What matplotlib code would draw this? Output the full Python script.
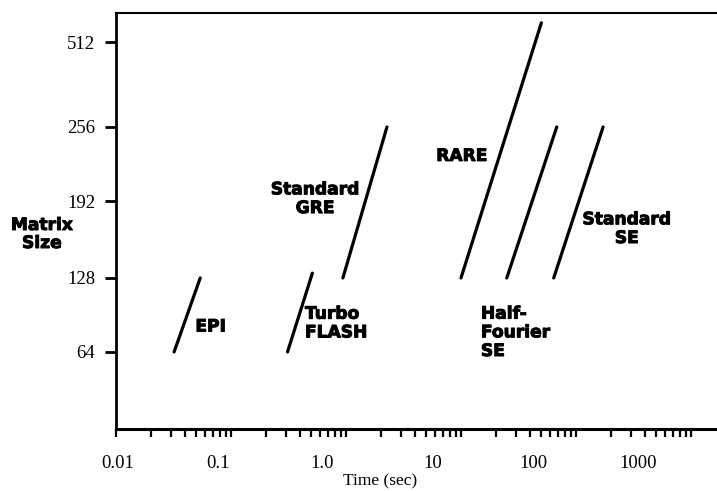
import numpy as np
import matplotlib
matplotlib.use("Agg")
import matplotlib.pyplot as plt
import matplotlib.patheffects as pe
from matplotlib.ticker import FixedLocator, LogLocator, NullLocator, NullFormatter

plt.rcParams['font.family'] = 'serif'
plt.rcParams['font.serif'] = ['Liberation Serif', 'DejaVu Serif']

# sequence lines: (time_start, time_end), (matrix_start, matrix_end)
sequences = ['EPI', 'Turbo FLASH', 'Standard GRE', 'RARE', 'Half-Fourier SE', 'Standard SE']
time_lo = [0.032, 0.31, 0.94, 10.0, 25.0, 64.0]
time_hi = [0.054, 0.51, 2.27, 50.0, 68.0, 172.0]
size_lo = [64, 64, 128, 128, 128, 128]
size_hi = [128, 132, 256, 570, 256, 256]

# label text and where it sits (time, matrix size, alignment)
label_text = ['EPI', 'Turbo\nFLASH', 'Standard\nGRE', 'RARE', 'Half-\nFourier\nSE', 'Standard\nSE']
label_t = [0.049, 0.44, 0.54, 10.2, 14.9, 277.0]
label_s = [86, 89, 194, 231, 81, 169]
label_ha = ['left', 'left', 'center', 'center', 'left', 'center']

# y axis: the tick spacing is not linear in matrix size
y_ticks = [64, 128, 192, 256, 512]
y_pos = [0.0, 0.987, 2.013, 3.0, 4.133]

x_tick_at = [0.0104, 0.0771, 0.618, 5.71, 42.3, 346.0]
x_tick_labels = ['0.01', '0.1', '1.0', '10', '100', '1000']

ys = np.array(y_ticks, float)
yp = np.array(y_pos, float)
lo_slope = (yp[1] - yp[0]) / (ys[1] - ys[0])
hi_slope = (yp[-1] - yp[-2]) / (ys[-1] - ys[-2])


def fwd(s):
    s = np.asarray(s, float)
    out = np.interp(s, ys, yp)
    out = np.where(s < ys[0], yp[0] + (s - ys[0]) * lo_slope, out)
    out = np.where(s > ys[-1], yp[-1] + (s - ys[-1]) * hi_slope, out)
    return out


def inv(p):
    p = np.asarray(p, float)
    out = np.interp(p, yp, ys)
    out = np.where(p < yp[0], ys[0] + (p - yp[0]) / lo_slope, out)
    out = np.where(p > yp[-1], ys[-1] + (p - yp[-1]) / hi_slope, out)
    return out


heavy = [pe.withStroke(linewidth=0.7, foreground='black')]

fig = plt.figure(figsize=(7.17, 4.91), dpi=100)
ax = fig.add_axes([116 / 717, 1 - 429 / 491, 1 - 116 / 717, (429 - 13) / 491])

for i in range(len(sequences)):
    ax.plot([time_lo[i], time_hi[i]], [size_lo[i], size_hi[i]],
            color='black', lw=2.3, solid_capstyle='round')

for txt, t, s, ha in zip(label_text, label_t, label_s, label_ha):
    ax.text(t, s, txt, ha=ha, va='center', family='DejaVu Sans',
            fontweight='bold', fontsize=12.3, linespacing=1.05, path_effects=heavy)

ax.set_xscale('log')
ax.set_yscale('function', functions=(fwd, inv))
ax.set_xlim(0.01, 10 ** ((717 - 116) / 115 - 2))
ax.set_ylim(float(inv(-1.027)), float(inv(4.52)))

ax.set_yticks(y_ticks)
ax.set_yticklabels([str(v) for v in y_ticks])
ax.yaxis.set_minor_locator(NullLocator())

ax.xaxis.set_major_locator(FixedLocator(x_tick_at))
ax.set_xticklabels(x_tick_labels)
ax.xaxis.set_minor_locator(LogLocator(base=10, subs=np.arange(1, 10), numticks=60))
ax.xaxis.set_minor_formatter(NullFormatter())

ax.tick_params(axis='x', which='major', length=0, pad=19, labelsize=13.5)
ax.tick_params(axis='x', which='minor', length=5.5, width=1.6, direction='out')
ax.tick_params(axis='y', which='major', length=8, width=2, pad=7, labelsize=13.5)

ax.spines['right'].set_visible(False)
ax.spines['left'].set_linewidth(2.0)
ax.spines['bottom'].set_linewidth(2.2)
ax.spines['top'].set_linewidth(1.5)

fig.text(380 / 717, 1 - 481 / 491, 'Time (sec)', ha='center', va='center', fontsize=12.5)
fig.text(42 / 717, 1 - 234 / 491, 'Matrix\nSize', ha='center', va='center',
         family='DejaVu Sans', fontweight='bold', fontsize=12.3, linespacing=1.0,
         path_effects=heavy)

fig.savefig('out.png', dpi=100, facecolor='white')
